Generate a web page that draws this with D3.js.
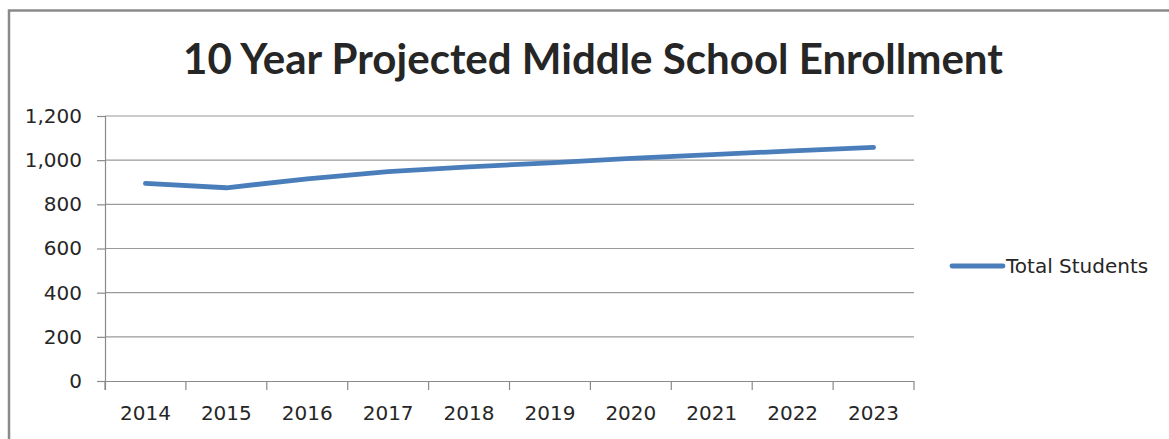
<!DOCTYPE html>
<html>
<head>
<meta charset="utf-8">
<script src="https://cdn.jsdelivr.net/npm/d3@7"></script>
<style>
  body { margin: 0; background: #fff; }
  text { font-family: "DejaVu Sans", sans-serif; fill: #262626; }
</style>
</head>
<body>
<div id="chart"></div>
<script>
// chart data
const years = ["2014", "2015", "2016", "2017", "2018", "2019", "2020", "2021", "2022", "2023"];
const totalStudents = [895, 875, 915, 948, 970, 988, 1008, 1025, 1042, 1058];
const yTicks = [0, 200, 400, 600, 800, 1000, 1200];
const seriesName = "Total Students";
const chartTitle = "10 Year Projected Middle School Enrollment";

let width = 1169;
let height = 439;
let margin = { top: 116, left: 105, right: 255, bottom: 58 };

let svg = d3.select("#chart")
  .append("svg")
  .attr("width", width)
  .attr("height", height);

// outer frame (only top and left edges show in the picture)
svg.append("path")
  .attr("d", "M9,439 V10.5 H1169")
  .attr("fill", "none")
  .attr("stroke", "#8a8a8a")
  .attr("stroke-width", 2.5);

let x = d3.scaleBand()
  .domain(years)
  .range([margin.left, width - margin.right]);

let y = d3.scaleLinear()
  .domain([0, 1200])
  .range([height - margin.bottom, margin.top]);

// gridlines
svg.append("g")
  .selectAll("line")
  .data(yTicks.filter(d => d > 0))
  .enter()
    .append("line")
    .attr("x1", margin.left)
    .attr("x2", width - margin.right)
    .attr("y1", d => y(d))
    .attr("y2", d => y(d))
    .attr("stroke", "#9a9a9a")
    .attr("stroke-width", 1.2);

// y axis
let yAxis = svg.append("g")
  .attr("transform", "translate(" + margin.left + ",0)")
  .call(d3.axisLeft(y).tickValues(yTicks).tickSize(8).tickPadding(15).tickFormat(d3.format(",")));
yAxis.selectAll("text").style("font-size", "20px").attr("fill", "#262626");

// x axis, ticks sit between categories
let xAxis = svg.append("g")
  .attr("transform", "translate(0," + y(0) + ")")
  .call(d3.axisBottom(x).tickSize(0).tickPadding(25));
xAxis.selectAll("text").style("font-size", "20px").attr("fill", "#262626");
xAxis.selectAll("line.between")
  .data(years.concat(["end"]))
  .enter()
    .append("line")
    .attr("class", "between")
    .attr("x1", (d, i) => margin.left + i * x.step())
    .attr("x2", (d, i) => margin.left + i * x.step())
    .attr("y1", 0)
    .attr("y2", 9);

svg.selectAll(".domain, .tick line, line.between")
  .attr("stroke", "#8a8a8a")
  .attr("stroke-width", 1.2);
xAxis.select(".domain").attr("d", "M" + margin.left + ",0.5H" + (width - margin.right));
yAxis.select(".domain").attr("d", "M0.5," + y(1200) + "V" + (y(0) + 9));

// the series line
let line = d3.line()
  .x((d, i) => x(years[i]) + x.bandwidth() / 2)
  .y(d => y(d));

svg.append("path")
  .datum(totalStudents)
  .attr("d", line)
  .attr("fill", "none")
  .attr("stroke", "#4a7ebb")
  .attr("stroke-width", 4.8)
  .attr("stroke-linecap", "round")
  .attr("stroke-linejoin", "round");

// legend
let legend = svg.append("g").attr("transform", "translate(952,266)");
legend.append("line")
  .attr("x1", 0).attr("x2", 51)
  .attr("stroke", "#4a7ebb")
  .attr("stroke-width", 4.8)
  .attr("stroke-linecap", "round");
legend.append("text")
  .attr("x", 54)
  .attr("dy", "0.35em")
  .style("font-size", "20px")
  .text(seriesName);

// title, sized to the span it has in the picture
let title = svg.append("text")
  .attr("x", 593)
  .attr("y", 74)
  .attr("text-anchor", "middle")
  .style("font-family", "Lato, sans-serif")
  .style("font-weight", "bold")
  .style("font-size", "40px")
  .attr("fill", "#000")
  .text(chartTitle);
let titleLen = title.node().getComputedTextLength();
title.style("font-size", (40 * 820 / titleLen) + "px");
</script>
</body>
</html>
